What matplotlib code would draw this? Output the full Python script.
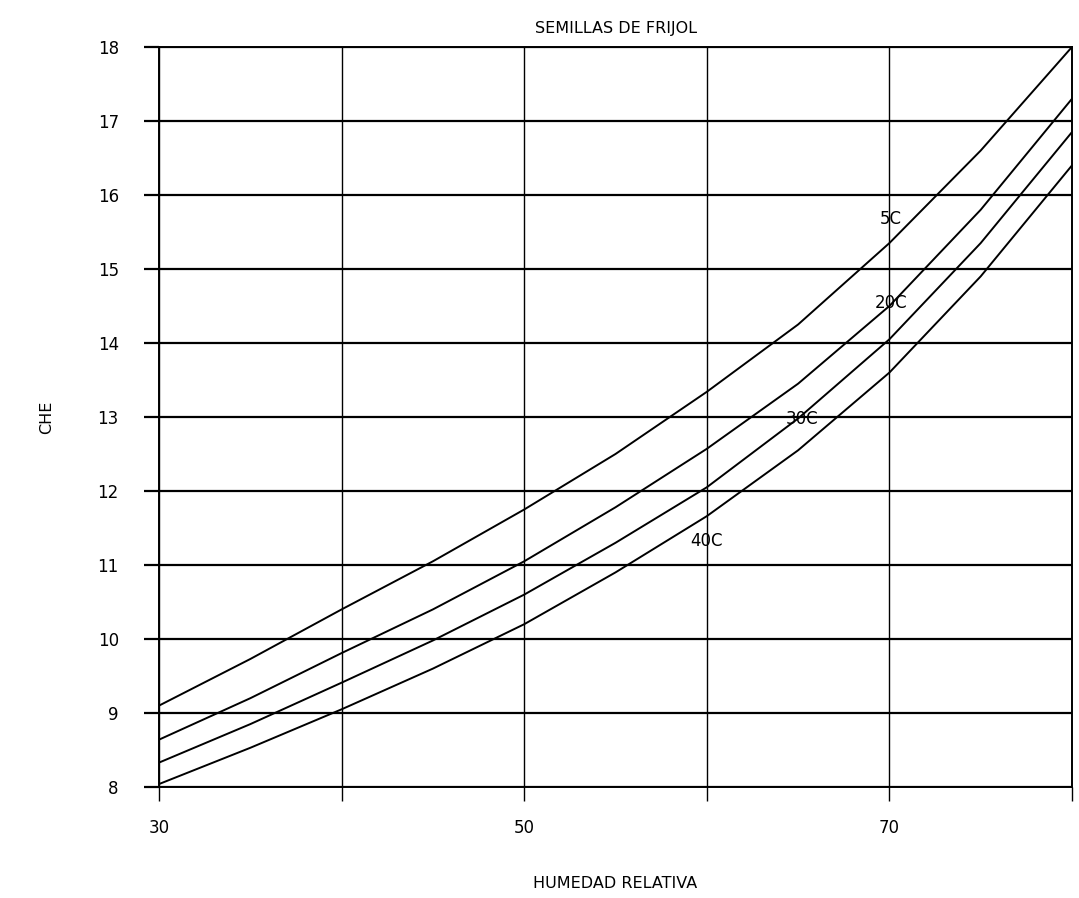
import matplotlib
matplotlib.use('Agg')
import matplotlib.pyplot as plt

humedad = [30, 35, 40, 45, 50, 55, 60, 65, 70, 75, 80]
che_5c = [9.10, 9.73, 10.40, 11.05, 11.75, 12.50, 13.34, 14.25, 15.35, 16.60, 18.00]
che_20c = [8.64, 9.20, 9.81, 10.40, 11.05, 11.78, 12.57, 13.45, 14.50, 15.80, 17.30]
che_30c = [8.33, 8.85, 9.41, 9.98, 10.60, 11.30, 12.05, 12.98, 14.05, 15.35, 16.85]
che_40c = [8.04, 8.53, 9.05, 9.60, 10.20, 10.90, 11.66, 12.55, 13.60, 14.90, 16.40]

series = [('5C', che_5c), ('20C', che_20c), ('30C', che_30c), ('40C', che_40c)]
label_pos = {'5C': (70.1, 15.67), '20C': (70.1, 14.54), '30C': (65.2, 12.97), '40C': (60.0, 11.33)}

x_labeled = [30, 50, 70]
x_unlabeled = [40, 60, 80]
y_ticks = list(range(8, 19))


def main():
    fig = plt.figure(figsize=(10.79, 8.98), dpi=100)
    ax = fig.add_axes([0.1474, 0.1236, 0.8461, 0.8241])

    for name, vals in series:
        ax.plot(humedad, vals, color='black', lw=1.4)
        lx, ly = label_pos[name]
        ax.text(lx, ly, name, ha='center', va='center', fontsize=12)

    ax.set_xlim(30, 80)
    ax.set_ylim(8, 18)
    ax.set_xticks(x_labeled)
    ax.set_xticks(x_unlabeled, minor=True)
    ax.set_yticks(y_ticks)

    ax.grid(True, which='major', axis='y', color='black', lw=1.6)
    ax.grid(True, which='both', axis='x', color='black', lw=1.0)
    ax.tick_params(axis='x', which='both', direction='out', length=10, width=1.0,
                   labelsize=12, pad=13)
    ax.tick_params(axis='y', direction='out', length=11, width=1.6,
                   labelsize=12, pad=18)
    for s in ax.spines.values():
        s.set_color('black')
        s.set_linewidth(1.4)

    ax.set_title('SEMILLAS DE FRIJOL', fontsize=11.5, pad=10)
    ax.set_xlabel('HUMEDAD RELATIVA', fontsize=11.5)
    ax.xaxis.set_label_coords(0.5, -0.12)
    ax.set_ylabel('CHE', fontsize=11.5)
    ax.yaxis.set_label_coords(-0.115, 0.5)

    fig.savefig('out.png', dpi=100, facecolor='white')


if __name__ == '__main__':
    main()
